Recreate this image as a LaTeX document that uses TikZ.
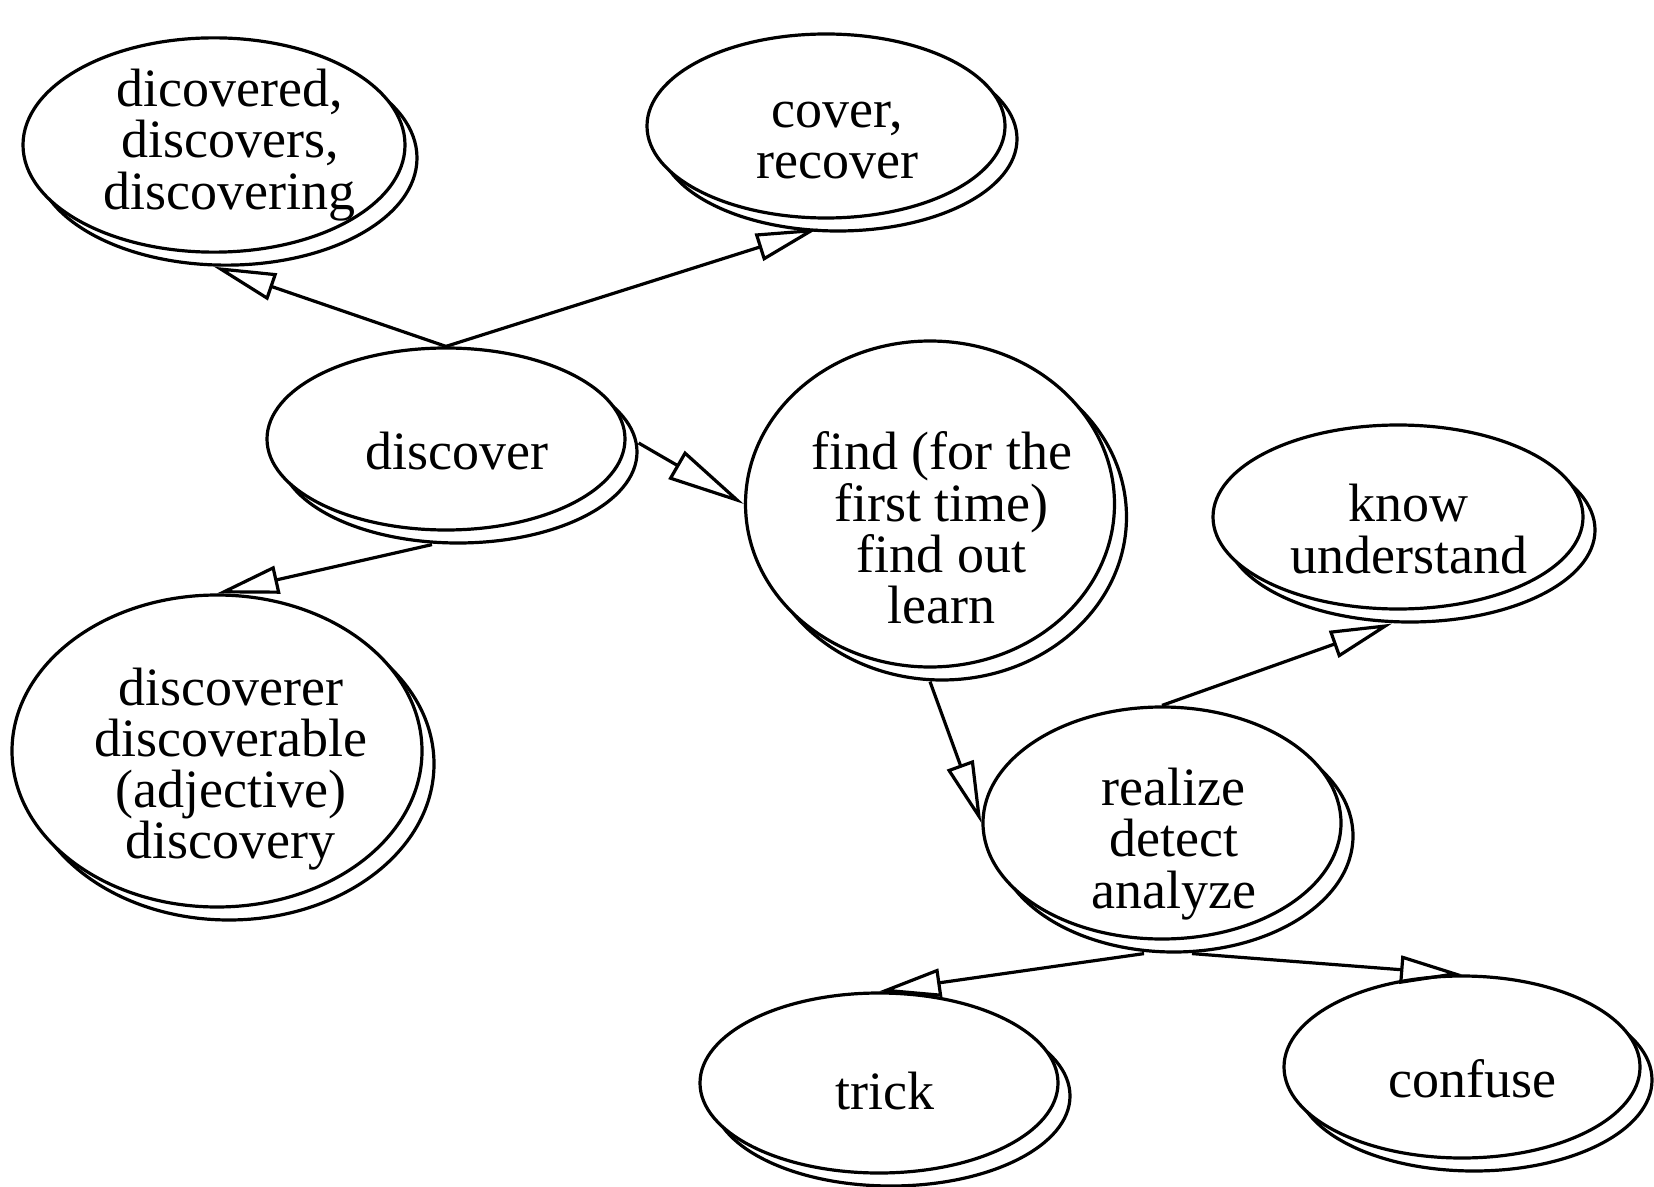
\documentclass[tikz,border=0pt]{standalone}
\usepackage{fontspec}
\setmainfont{Liberation Serif}
\usetikzlibrary{arrows.meta,shapes.geometric,shadows}

% text of a word bubble, moved right by #1 and down by #2
\newcommand\wtext[3]{\raisebox{-#2}[\height][\depth]{\hspace*{#1}\vbox{\let\\\cr\halign{\hfil##\hfil\cr#3\cr}}\hspace*{-#1}}}

\tikzset{
  word/.style={ellipse, draw=black, fill=white, line width=1.6pt, inner sep=0pt,
    font=\fontsize{27}{25.6}\selectfont,
    copy shadow={shadow xshift=6pt, shadow yshift=-6.5pt}},
  rel/.style={line width=1.6pt, -{Triangle[open,length=31pt,width=14pt]}}
}

\begin{document}
\begin{tikzpicture}[x=0.5pt,y=-0.5pt]
\useasboundingbox (0,0) rectangle (1654,1187);
\node [word, minimum width=191pt, minimum height=100pt] (dicovered) at (214,145) {\wtext{7.9pt}{0pt}{dicovered,\\discovers,\\discovering}};
\node [word, minimum width=179pt, minimum height=92pt] (cover) at (826,126) {\wtext{5.8pt}{7.4pt}{cover,\\recover}};
\node [word, minimum width=179pt, minimum height=91pt] (discover) at (446,439) {\wtext{5.3pt}{5.8pt}{discover}};
\node [word, minimum width=179pt, minimum height=163pt] (find) at (930,504) {\wtext{5.8pt}{12pt}{find (for the\\first time)\\find out\\learn}};
\node [word, minimum width=185pt, minimum height=92pt] (know) at (1398,517) {\wtext{5.3pt}{6pt}{know\\understand}};
\node [word, minimum width=205pt, minimum height=156pt] (discoverer) at (217,751) {\wtext{6.9pt}{9pt}{discoverer\\discoverable\\(adjective)\\discovery}};
\node [word, minimum width=179pt, minimum height=116pt] (realize) at (1162,823) {\wtext{5.8pt}{10.5pt}{realize\\detect\\analyze}};
\node [word, minimum width=179pt, minimum height=90pt] (trick) at (879,1083) {\wtext{3.2pt}{4.2pt}{trick}};
\node [word, minimum width=178pt, minimum height=91pt] (confuse) at (1462,1067) {\wtext{5.3pt}{5.8pt}{confuse}};
% edges
\draw [rel] (discover.north) -- ([yshift=-6.5pt]dicovered.south);
\draw [rel] (discover.north) -- ([xshift=-4pt,yshift=-4.5pt]cover.south);
\draw [rel, -{Triangle[open,length=39pt,width=16pt]}] ([xshift=6pt,yshift=-2pt]discover.east) -- (find.west);
\draw [rel] ([xshift=-7pt,yshift=-6.5pt]discover.south) -- (discoverer.north);
\draw [rel] ([yshift=-6.5pt]find.south) -- (realize.west);
\draw [rel] (realize.north) -- ([xshift=-3pt,yshift=-6.5pt]know.south);
\draw [rel] ([xshift=-9pt,yshift=-6.5pt]realize.south) -- (trick.north);
\draw [rel] ([xshift=15pt,yshift=-6.5pt]realize.south) -- (confuse.north);
\end{tikzpicture}
\end{document}
